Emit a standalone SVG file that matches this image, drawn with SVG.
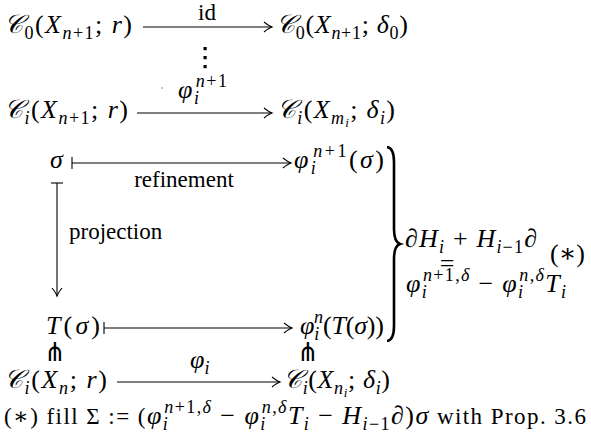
<svg xmlns="http://www.w3.org/2000/svg" width="591" height="438" viewBox="0 0 591 438">
<defs>
<style>
text{font-family:"Liberation Serif","DejaVu Serif",serif;font-size:23px;fill:#000}
.m{font-size:26px}
.i{font-style:italic}
.s{font-size:18px}
.ss{font-size:13px}
.sc{font-family:"DejaVu Serif","Noto Sans","DejaVu Sans",serif;font-style:italic}
.pf{font-family:"DejaVu Sans",sans-serif;font-size:26px}
.ln{stroke:#000;stroke-width:1.1;fill:none}
</style>
<marker id="ah" markerUnits="userSpaceOnUse" markerWidth="14" markerHeight="14" refX="0" refY="0" viewBox="-10 -7 12 14" orient="auto" overflow="visible">
<path d="M-8,-5 Q-3,-1 0,0 Q-3,1 -8,5" fill="none" stroke="#000" stroke-width="1.1"/>
</marker>
</defs>
<rect width="591" height="438" fill="#fff"/>
<g id="connectors">
<line class="ln" x1="143" y1="27" x2="272" y2="27" marker-end="url(#ah)"/>
<text x="207" y="20" text-anchor="middle">id</text>
<line class="ln" x1="137" y1="113" x2="272" y2="113" marker-end="url(#ah)"/>
<text x="178" y="98" class="m" textLength="49" lengthAdjust="spacing"><tspan class="i">φ</tspan><tspan class="s i" dy="6">i</tspan><tspan class="s" dx="-5" dy="-17"><tspan class="i">n</tspan>+1</tspan></text>
<circle cx="162" cy="88" r="0.8" fill="#888"/>
<line class="ln" x1="72" y1="163" x2="291" y2="163" marker-end="url(#ah)"/>
<line class="ln" x1="72" y1="157" x2="72" y2="169"/>
<text x="184" y="187" text-anchor="middle">refinement</text>
<line class="ln" x1="57" y1="183" x2="57" y2="296" marker-end="url(#ah)"/>
<line class="ln" x1="51" y1="183" x2="63" y2="183"/>
<text x="69" y="239">projection</text>
<line class="ln" x1="104" y1="328" x2="292" y2="328" marker-end="url(#ah)"/>
<line class="ln" x1="104" y1="322" x2="104" y2="334"/>
<line class="ln" x1="117" y1="382" x2="280" y2="382" marker-end="url(#ah)"/>
<text x="190" y="368" class="m"><tspan class="i">φ</tspan><tspan class="s i" dy="6">i</tspan></text>
</g>
<g id="n1"><text x="4" y="33" class="m" textLength="128" lengthAdjust="spacing"><tspan class="sc">𝒞</tspan><tspan class="s" dy="6">0</tspan><tspan dy="-6">(</tspan><tspan class="i">X</tspan><tspan class="s" dy="6"><tspan class="i">n</tspan>+1</tspan><tspan dy="-6">; </tspan><tspan class="i">r</tspan>)</text></g>
<g id="n2"><text x="276" y="33" class="m" textLength="132" lengthAdjust="spacing"><tspan class="sc">𝒞</tspan><tspan class="s" dy="6">0</tspan><tspan dy="-6">(</tspan><tspan class="i">X</tspan><tspan class="s" dy="6"><tspan class="i">n</tspan>+1</tspan><tspan dy="-6">; </tspan><tspan class="i">δ</tspan><tspan class="s" dy="6">0</tspan><tspan dy="-6">)</tspan></text></g>
<g id="vdots"><rect x="203.5" y="47" width="3.2" height="3.2"/><rect x="203.5" y="56" width="3.2" height="3.2"/><rect x="203.5" y="65" width="3.2" height="3.2"/></g>
<g id="n3"><text x="4" y="118" class="m" textLength="124" lengthAdjust="spacing"><tspan class="sc">𝒞</tspan><tspan class="s i" dy="6">i</tspan><tspan dy="-6">(</tspan><tspan class="i">X</tspan><tspan class="s" dy="6"><tspan class="i">n</tspan>+1</tspan><tspan dy="-6">; </tspan><tspan class="i">r</tspan>)</text></g>
<g id="n4"><text x="277" y="118" class="m" textLength="118" lengthAdjust="spacing"><tspan class="sc">𝒞</tspan><tspan class="s i" dy="6">i</tspan><tspan dy="-6">(</tspan><tspan class="i">X</tspan><tspan class="s i" dy="6">m<tspan class="ss" dy="3">i</tspan></tspan><tspan dy="-9">; </tspan><tspan class="i">δ</tspan><tspan class="s i" dy="6">i</tspan><tspan dy="-6">)</tspan></text></g>
<g id="n5"><text x="50" y="168" class="m i">σ</text></g>
<g id="n6"><text x="294" y="168" class="m" textLength="90" lengthAdjust="spacing"><tspan class="i">φ</tspan><tspan class="s i" dy="6">i</tspan><tspan class="s" dx="-5" dy="-17"><tspan class="i">n</tspan>+1</tspan><tspan dy="11">(</tspan><tspan class="i">σ</tspan>)</text></g>
<g id="n7"><text x="46" y="334" class="m" textLength="54" lengthAdjust="spacing"><tspan class="i">T</tspan>(<tspan class="i">σ</tspan>)</text></g>
<g id="n8"><text x="300" y="334" class="m" textLength="84" lengthAdjust="spacing"><tspan class="i">φ</tspan><tspan class="s i" dy="6">i</tspan><tspan class="s i" dx="-5" dy="-17">n</tspan><tspan dy="11">(</tspan><tspan class="i">T</tspan>(<tspan class="i">σ</tspan>))</text></g>
<g id="pf1"><text x="55" y="361" text-anchor="middle" class="pf">⋔</text></g>
<g id="pf2"><text x="308" y="361" text-anchor="middle" class="pf">⋔</text></g>
<g id="n9"><text x="4" y="388" class="m" textLength="103" lengthAdjust="spacing"><tspan class="sc">𝒞</tspan><tspan class="s i" dy="6">i</tspan><tspan dy="-6">(</tspan><tspan class="i">X</tspan><tspan class="s i" dy="6">n</tspan><tspan dy="-6">; </tspan><tspan class="i">r</tspan>)</text></g>
<g id="n10"><text x="283" y="388" class="m" textLength="107" lengthAdjust="spacing"><tspan class="sc">𝒞</tspan><tspan class="s i" dy="6">i</tspan><tspan dy="-6">(</tspan><tspan class="i">X</tspan><tspan class="s i" dy="6">n<tspan class="ss" dy="3">i</tspan></tspan><tspan dy="-9">; </tspan><tspan class="i">δ</tspan><tspan class="s i" dy="6">i</tspan><tspan dy="-6">)</tspan></text></g>
<g id="brace">
<path d="M387,147 Q394,148 394,162 L394,229 Q394,242 400,244 Q394,246 394,259 L394,326 Q394,340 387,341" fill="none" stroke="#000" stroke-width="2.6"/>
<text x="405" y="247" class="m" textLength="132" lengthAdjust="spacing"><tspan class="i">∂H</tspan><tspan class="s i" dy="6">i</tspan><tspan dy="-6"> + </tspan><tspan class="i">H</tspan><tspan class="s" dy="6"><tspan class="i">i</tspan>−1</tspan><tspan class="i" dy="-6">∂</tspan></text>
<text x="447" y="272" text-anchor="middle" class="m">=</text>
<text x="406" y="292" class="m" textLength="160" lengthAdjust="spacing"><tspan class="i">φ</tspan><tspan class="s i" dy="6">i</tspan><tspan class="s" dx="-5" dy="-17"><tspan class="i">n</tspan>+1,<tspan class="i">δ</tspan></tspan><tspan dy="11"> − </tspan><tspan class="i">φ</tspan><tspan class="s i" dy="6">i</tspan><tspan class="s" dx="-5" dy="-17"><tspan class="i">n</tspan>,<tspan class="i">δ</tspan></tspan><tspan class="i" dy="11">T</tspan><tspan class="s i" dy="6">i</tspan></text>
<text x="550" y="262" class="m">(∗)</text>
</g>
<g id="note"><text x="4" y="424" textLength="582" lengthAdjust="spacing">(∗) fill Σ := (<tspan class="m i">φ</tspan><tspan class="s i" dy="6">i</tspan><tspan class="s" dx="-5" dy="-17"><tspan class="i">n</tspan>+1,<tspan class="i">δ</tspan></tspan><tspan class="m" dy="11"> − </tspan><tspan class="m i">φ</tspan><tspan class="s i" dy="6">i</tspan><tspan class="s" dx="-5" dy="-17"><tspan class="i">n</tspan>,<tspan class="i">δ</tspan></tspan><tspan class="m i" dy="11">T</tspan><tspan class="s i" dy="6">i</tspan><tspan class="m" dy="-6"> − </tspan><tspan class="m i">H</tspan><tspan class="s" dy="6"><tspan class="i">i</tspan>−1</tspan><tspan class="m i" dy="-6">∂</tspan><tspan class="m">)</tspan><tspan class="m i">σ</tspan> with Prop. 3.6</text></g>
</svg>
